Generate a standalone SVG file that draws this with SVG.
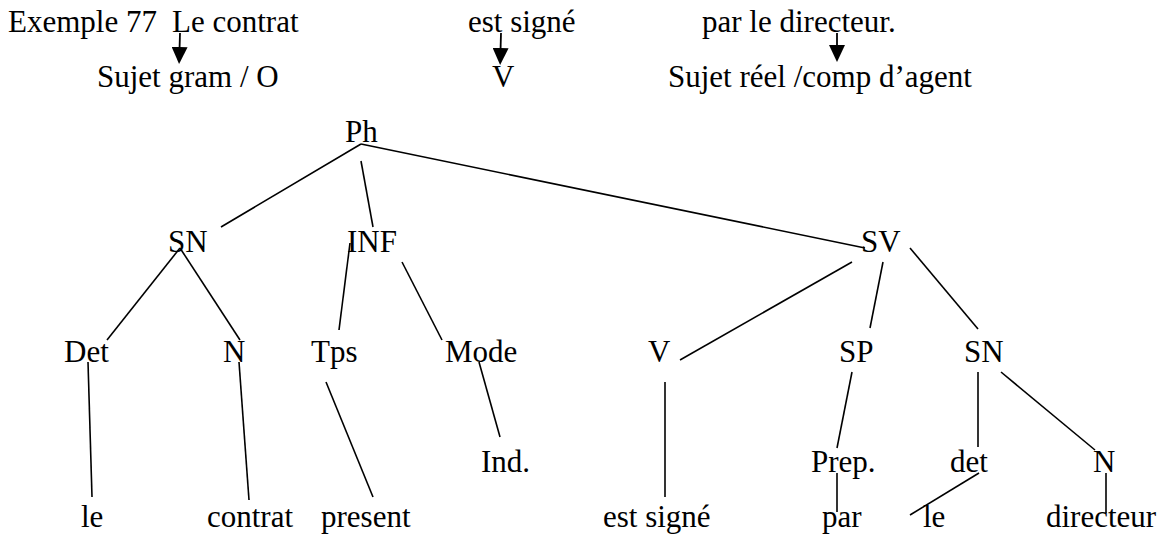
<svg xmlns="http://www.w3.org/2000/svg" width="1168" height="535" viewBox="0 0 1168 535">
<style>
text { font-family: "Liberation Serif", "Times New Roman", serif; font-size: 31px; fill: #000; }
.e { stroke: #000; stroke-width: 1.6; fill: none; }
.a { stroke: #000; stroke-width: 1.8; fill: none; marker-end: url(#ah); }
</style>
<defs>
<marker id="ah" viewBox="0 0 17 16" refX="3" refY="8" markerWidth="17" markerHeight="16" markerUnits="userSpaceOnUse" orient="auto">
<path d="M0,0 L17,8 L0,16 z" fill="#000"/>
</marker>
</defs>
<rect width="1168" height="535" fill="#fff"/>
<g id="sentence">
<text x="8" y="32">Exemple 77</text>
<text x="172" y="32">Le contrat</text>
<text x="468" y="32">est signé</text>
<text x="702" y="32">par le directeur.</text>
</g>
<g id="functions">
<text x="97" y="87">Sujet gram / O</text>
<text x="492" y="87">V</text>
<text x="668" y="87">Sujet réel /comp d’agent</text>
</g>
<g id="n-Ph"><text x="345" y="142">Ph</text></g>
<g id="n-SN1"><text x="168" y="252">SN</text></g>
<g id="n-INF"><text x="347" y="252">INF</text></g>
<g id="n-SV"><text x="861" y="252">SV</text></g>
<g id="n-Det"><text x="64" y="362">Det</text></g>
<g id="n-N1"><text x="223" y="362">N</text></g>
<g id="n-Tps"><text x="311" y="362">Tps</text></g>
<g id="n-Mode"><text x="445" y="362">Mode</text></g>
<g id="n-V"><text x="648" y="362">V</text></g>
<g id="n-SP"><text x="839" y="362">SP</text></g>
<g id="n-SN2"><text x="964" y="362">SN</text></g>
<g id="n-Ind"><text x="481" y="472">Ind.</text></g>
<g id="n-Prep"><text x="811" y="472">Prep.</text></g>
<g id="n-det"><text x="950" y="472">det</text></g>
<g id="n-N2"><text x="1093" y="472">N</text></g>
<g id="n-le1"><text x="81" y="527">le</text></g>
<g id="n-contrat"><text x="207" y="527">contrat</text></g>
<g id="n-present"><text x="321" y="527">present</text></g>
<g id="n-estsigne"><text x="603" y="527">est signé</text></g>
<g id="n-par"><text x="822" y="527">par</text></g>
<g id="n-le2"><text x="923" y="527">le</text></g>
<g id="n-directeur"><text x="1046" y="527">directeur</text></g>
<g id="connectors">
<line class="a" x1="180" y1="33" x2="179.5" y2="50"/>
<line class="a" x1="501" y1="33" x2="500.5" y2="51"/>
<line class="a" x1="837" y1="33" x2="837" y2="48"/>
<line class="e" x1="361" y1="144" x2="221" y2="227"/>
<line class="e" x1="361" y1="161" x2="373" y2="227"/>
<line class="e" x1="361" y1="144" x2="865" y2="248"/>
<line class="e" x1="180" y1="248" x2="107" y2="340"/>
<line class="e" x1="180" y1="248" x2="240" y2="340"/>
<line class="e" x1="350" y1="243" x2="339" y2="330"/>
<line class="e" x1="402" y1="262" x2="442" y2="340"/>
<line class="e" x1="852" y1="262" x2="680" y2="360"/>
<line class="e" x1="883" y1="262" x2="870" y2="328"/>
<line class="e" x1="910" y1="248" x2="978" y2="329"/>
<line class="e" x1="88" y1="362" x2="92" y2="497"/>
<line class="e" x1="239" y1="362" x2="249" y2="500"/>
<line class="e" x1="326" y1="382" x2="373" y2="497"/>
<line class="e" x1="479" y1="362" x2="500" y2="437"/>
<line class="e" x1="665" y1="382" x2="665" y2="497"/>
<line class="e" x1="852" y1="372" x2="837" y2="448"/>
<line class="e" x1="978" y1="372" x2="978" y2="447"/>
<line class="e" x1="1001" y1="372" x2="1095" y2="450"/>
<line class="e" x1="837" y1="473" x2="837" y2="512"/>
<line class="e" x1="979" y1="473" x2="910" y2="515"/>
<line class="e" x1="1106" y1="473" x2="1106" y2="513"/>
</g>
</svg>
